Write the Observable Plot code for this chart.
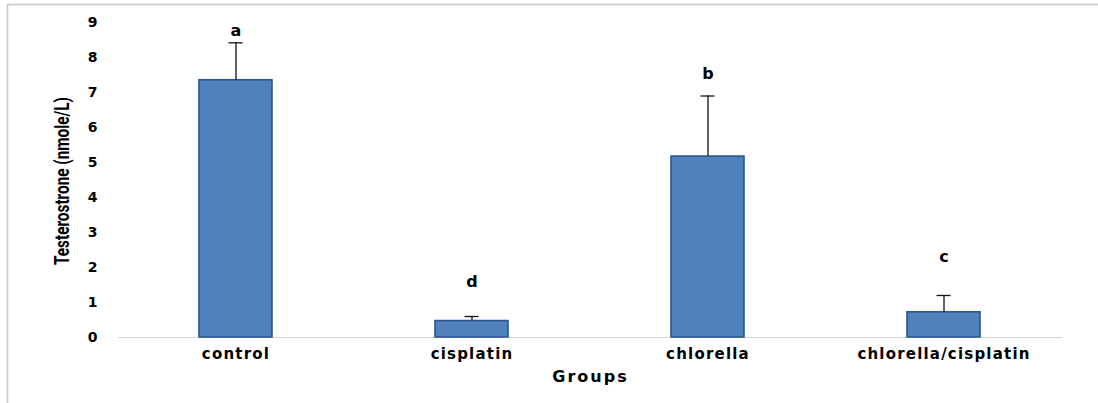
<!DOCTYPE html>
<html>
<head>
<meta charset="utf-8">
<script src="https://cdn.jsdelivr.net/npm/d3@7"></script>
<script src="https://cdn.jsdelivr.net/npm/@observablehq/plot@0.6"></script>
<style>
  html, body { margin: 0; padding: 0; background: #fff; }
  #chart { width: 1098px; height: 403px; }
</style>
</head>
<body>
<div id="chart"></div>
<script>
const groups = ["control", "cisplatin", "chlorella", "chlorella/cisplatin"];
const means = [7.35, 0.47, 5.17, 0.72];
const sds = [1.07, 0.13, 1.73, 0.48];
const letters = ["a", "d", "b", "c"];
const letterHeights = [8.77, 1.6, 7.54, 2.31];
const yTicks = [0, 1, 2, 3, 4, 5, 6, 7, 8, 9];
const yTitle = "Testerostrone (nmole/L)";
const xTitle = "Groups";

const data = groups.map((g, i) => ({
  group: g, mean: means[i], top: means[i] + sds[i],
  letter: letters[i], letterY: letterHeights[i]
}));

const tickFont = "DejaVu Sans";
const chart = Plot.plot({
  width: 1098,
  height: 403,
  marginLeft: 118,
  marginRight: 36,
  marginTop: 22,
  marginBottom: 66,
  x: { domain: groups, paddingInner: 0.69, paddingOuter: 0.345, label: null },
  y: { domain: [0, 9], label: null },
  style: { background: "#fff" },
  marks: [
    Plot.ruleY([0], { stroke: "#d4d4d4", strokeWidth: 1 }),
    Plot.barY(data, { x: "group", y: "mean", fill: "#4F81BD", stroke: "#2E5591", strokeWidth: 1.6 }),
    Plot.ruleX(data, { x: "group", y1: "mean", y2: "top", stroke: "#111", strokeWidth: 1.3 }),
    Plot.tickY(data, { x: "group", y: "top", stroke: "#111", strokeWidth: 1.3, insetLeft: 29.5, insetRight: 29.5 }),
    Plot.text(data, { x: "group", y: "letterY", text: "letter", fontFamily: tickFont, fontWeight: "bold", fontSize: 16, fill: "#000" }),
    Plot.axisY({ ticks: yTicks, tickSize: 0, tickPadding: 21, fontFamily: tickFont, fontWeight: "bold", fontSize: 14, label: null, color: "#000" }),
    Plot.axisX({ tickSize: 0, tickPadding: 11, fontFamily: tickFont, fontWeight: "bold", fontSize: 15, label: null, color: "#000" }),
    Plot.text([yTitle], { frameAnchor: "left", dx: -56, dy: 85, textAnchor: "start", rotate: -90, fontFamily: "Roboto", fontWeight: "bold", fontSize: 20, fill: "#000" }),
    Plot.text([xTitle], { frameAnchor: "bottom", dy: 44, fontFamily: tickFont, fontWeight: "bold", fontSize: 16, fill: "#000" })
  ]
});

const svg = d3.select(chart);
// widen x labels slightly to match the original's extended face
svg.selectAll("[aria-label='x-axis tick label'] text").style("letter-spacing", "1.2px");
svg.selectAll("text").filter(function () { return this.textContent === xTitle; }).style("letter-spacing", "2px");
svg.selectAll("text").filter(function () { return this.textContent === yTitle; })
  .attr("textLength", 168).attr("lengthAdjust", "spacingAndGlyphs");

svg.append("line").attr("x1", 7).attr("x2", 1098).attr("y1", 4.5).attr("y2", 4.5).attr("stroke", "#c8c8c8").attr("stroke-width", 1.5);
svg.append("line").attr("x1", 7.5).attr("x2", 7.5).attr("y1", 4).attr("y2", 403).attr("stroke", "#c8c8c8").attr("stroke-width", 1.5);

document.getElementById("chart").appendChild(chart);
</script>
</body>
</html>
